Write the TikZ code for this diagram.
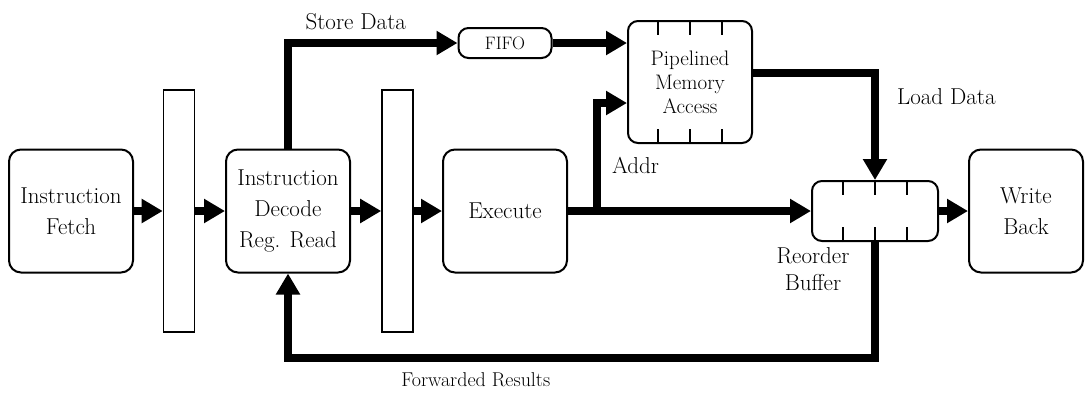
\documentclass[tikz,border=0pt]{standalone}
\usepackage{fontspec}
\usetikzlibrary{math, calc, arrows.meta}

\begin{document}
\begin{tikzpicture}[x=1pt, y=-1pt, line width=2pt,
    stage/.style={draw, rounded corners=12pt, minimum width=124pt, minimum height=123pt, align=center, inner sep=0pt},
    latch/.style={draw, line width=1.6pt, minimum width=31pt, minimum height=242pt, inner sep=0pt},
    queue/.style={draw, rounded corners=10pt, align=center, inner sep=0pt},
    bus/.style={line width=8pt, line join=miter, -{Triangle[length=21pt, width=23pt]}},
    lbl/.style={inner sep=2pt},
    font=\fontsize{23}{31}\selectfont]
    \tikzmath{
        \midy=211;
        \ticklen=15;
        \ticksep=32;
    }
    \useasboundingbox (0, 0) rectangle (1088, 394);

    % stages and latches
    \node [stage] (fetch) at (71, \midy) {Instruction\\Fetch};
    \node [latch] (reg1) at (179, \midy) {};
    \node [stage] (decode) at (288, \midy) {Instruction\\Decode\\Reg. Read};
    \node [latch] (reg2) at (397.5, \midy) {};
    \node [stage] (execute) at (505, \midy) {Execute};
    \node [stage, minimum width=114pt] (wb) at (1026, \midy) {Write\\Back};

    % memory side
    \node [queue, minimum width=93pt, minimum height=30pt, font=\fontsize{18}{20}\selectfont] (fifo) at (505, 43) {FIFO};
    \node [queue, minimum width=124pt, minimum height=122pt, font=\fontsize{21}{24}\selectfont] (mem) at (690, 82) {Pipelined\\Memory\\Access};
    \node [queue, minimum width=126pt, minimum height=60pt] (rob) at (875, \midy) {};
    \node [lbl, anchor=north, align=center, font=\fontsize{23}{27}\selectfont] (roblbl) at (813, 245) {Reorder\\Buffer};

    % ticks on the pipelined parts
    \foreach \dx in {-\ticksep, 0, \ticksep}{%
            \draw ($ (mem.north) + (\dx, 0) $) -- ++(0, \ticklen);
            \draw ($ (mem.south) + (\dx, 0) $) -- ++(0, -\ticklen);
            \draw ($ (rob.north) + (\dx, 0) $) -- ++(0, \ticklen);
            \draw ($ (rob.south) + (\dx, 0) $) -- ++(0, -\ticklen);
        }

    % main flow
    \draw [bus] (fetch.east) -- (reg1.west);
    \draw [bus] (reg1.east) -- (decode.west);
    \draw [bus] (decode.east) -- (reg2.west);
    \draw [bus] (reg2.east) -- (execute.west);
    \draw [bus] (execute.east) -- (rob.west);
    \draw [bus] (rob.east) -- (wb.west);

    % store data
    \draw [bus] (decode.north) |- (fifo.west) node [lbl, above=7pt, pos=0.7] {Store Data};
    \draw [bus] (fifo.east) -- (fifo.east -| mem.west);

    % address
    \coordinate (split) at (597, \midy);
    \draw [bus] (split) |- ($ (mem.west) + (0, 21) $) node [lbl, right=9pt, pos=0.21] {Addr};

    % load data
    \draw [bus] ($ (mem.east) + (0, -9) $) -| (rob.north) node [lbl, right=16pt, pos=0.61] {Load Data};

    % forwarding
    \draw [bus] (rob.south) -- ++(0, 116) -| (decode.south) node [lbl, below=9pt, pos=0.34, font=\fontsize{20}{22}\selectfont] {Forwarded Results};
\end{tikzpicture}
\end{document}
